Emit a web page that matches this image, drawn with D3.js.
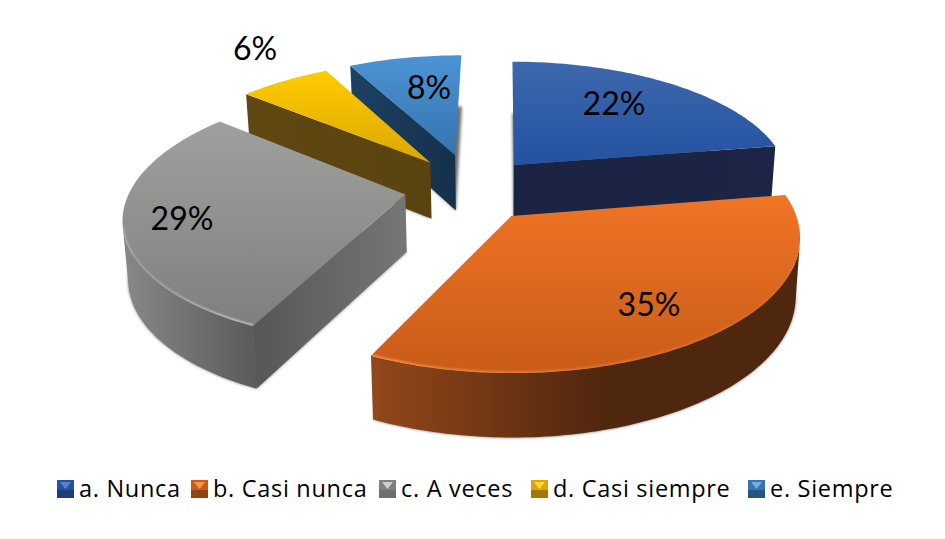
<!DOCTYPE html>
<html lang="es">
<head>
<meta charset="UTF-8">
<title>Grafico circular</title>
<script src="https://d3js.org/d3.v7.min.js"></script>
<style>
  html, body { margin: 0; background: #fff; }
  svg { display: block; }
  text { font-family: Lato, "Open Sans", sans-serif; fill: #000; }
  .leg text { font-family: "Open Sans", sans-serif; letter-spacing: 0.7px; }
</style>
</head>
<body>
<div id="grafico"></div>
<script>
// data
const categorias = ['a. Nunca', 'b. Casi nunca', 'c. A veces', 'd. Casi siempre', 'e. Siempre']
const valores = [22.4, 34.6, 29, 6.2, 7.8]

// colours per slice: top from/to, rim left/right, straight face left/right
const topoA = ['#3d68ad', '#f07425', '#a0a09e', '#ffcc00', '#4d93d3']
const topoB = ['#2452a0', '#c85c18', '#7f7f7f', '#dca700', '#3474b0']
const ladoA = ['#1b2444', '#94471a', '#888888', '#5f4812', '#1c4263']
const ladoB = ['#1b2444', '#4f260e', '#5a5a5a', '#59430f', '#15304a']
const ladoFim = [1, 0.55, 1, 1, 1]
const faceA = ['#1a2341', '#94471a', '#565656', '#5f4812', '#1c4263']
const faceB = ['#1c2546', '#4f260e', '#767676', '#59430f', '#15304a']
const bisel = ['#5a84c8', '#f7964c', '#cfcfcf', '#ffd83a', '#74aee0']
const biselA = [0, 1, 0.35, 0, 0]
const biselB = [0, 0.1, 1, 0, 0]

// layout
const largura = 945, altura = 539
const raios = [280, 276, 275, 280, 276]
const fundo = 57
const xv = 504, y0 = 189, k = 0.45, p = 0.00055
const explodeX = [10, 7, -98, -76, -51]
const explodeY = [-55, 58, 12, -60, -79]
const labelX = [614, 649, 182, 255, 429]
const labelY = [102, 303, 217, 47, 86]
const legendaX = [57, 191, 379, 531, 748]
const ordem = [0, 4, 3, 2, 1] // back to front

const svg = d3.select('#grafico').append('svg')
  .attr('width', largura)
  .attr('height', altura)

const defs = svg.append('defs')
defs.append('filter').attr('id', 'sombra')
  .attr('x', '-10%').attr('y', '-10%').attr('width', '120%').attr('height', '120%')
  .append('feGaussianBlur').attr('stdDeviation', 1.6)
defs.append('filter').attr('id', 'blur1')
  .attr('x', '-10%').attr('y', '-10%').attr('width', '120%').attr('height', '120%')
  .append('feGaussianBlur').attr('stdDeviation', 0.8)

function gradiente(id, a, b, x2, y2, opA, opB) {
  const g = defs.append('linearGradient').attr('id', id)
    .attr('x1', 0).attr('y1', 0).attr('x2', x2).attr('y2', y2)
  g.append('stop').attr('offset', 0).attr('stop-color', a).attr('stop-opacity', opA)
  g.append('stop').attr('offset', 1).attr('stop-color', b).attr('stop-opacity', opB)
}

valores.forEach((v, i) => {
  gradiente('topo' + i, topoA[i], topoB[i], 0, 1, 1, 1)
  gradiente('lado' + i, ladoA[i], ladoB[i], ladoFim[i], 0, 1, 1)
  gradiente('face' + i, faceA[i], faceB[i], 1, 0, 1, 1)
  gradiente('bisel' + i, bisel[i], bisel[i], 1, 0, biselA[i], biselB[i])
})

// plane -> screen, with a little perspective
function projeta(X, Y) {
  const s = 1 / (1 - p * Y)
  return [xv + X * s, y0 + k * Y * s, s]
}
// same point on the lower face of the slab
function abaixo(q) {
  return [xv + (q[0] - xv) * 0.985, q[1] + fundo * Math.pow(q[2], 0.6)]
}

const pie = d3.pie().sort(null).startAngle(0).endAngle(2 * Math.PI)
const fatias = pie(valores)
const linha = d3.line()

function borda(i, a0, a1) {
  const n = Math.max(2, Math.ceil((a1 - a0) / 0.02))
  return d3.range(n + 1).map(j => {
    const a = a0 + (a1 - a0) * j / n
    return projeta(explodeX[i] + raios[i] * Math.sin(a), explodeY[i] - raios[i] * Math.cos(a))
  })
}

ordem.forEach(i => {
  const f = fatias[i]
  const g = svg.append('g')
  const apice = projeta(explodeX[i], explodeY[i])
  const arco = borda(i, f.startAngle, f.endAngle)
  const topo = [apice].concat(arco)
  const sinal = Math.sign(d3.polygonArea(topo))

  // soft shadow of the lower face
  g.append('path')
    .attr('d', linha(topo.map(abaixo)) + 'Z')
    .attr('fill', '#6f6f6f')
    .attr('filter', 'url(#sombra)')

  // straight faces, only those clearly turned towards us
  const faces = [[apice, arco[0]], [arco[arco.length - 1], apice]]
  faces.forEach(par => {
    const quad = [par[0], par[1], abaixo(par[1]), abaixo(par[0])]
    const area = d3.polygonArea(quad)
    if (Math.sign(area) === sinal || Math.abs(area) < 800) return
    g.append('path')
      .attr('d', linha(quad) + 'Z')
      .attr('fill', 'url(#face' + i + ')')
  })

  // curved face, keep the part turned towards us
  const visivel = arco.slice(1).map((q, j) => {
    const quad = [arco[j], q, abaixo(q), abaixo(arco[j])]
    return Math.sign(d3.polygonArea(quad)) !== sinal
  })
  const ini = visivel.indexOf(true), fim = visivel.lastIndexOf(true)
  if (ini >= 0) {
    const parte = arco.slice(ini, fim + 2)
    g.append('path')
      .attr('d', linha(parte.concat(parte.map(abaixo).reverse())) + 'Z')
      .attr('fill', 'url(#lado' + i + ')')
  }

  // top
  g.append('path')
    .attr('d', linha(topo) + 'Z')
    .attr('fill', 'url(#topo' + i + ')')

  // bevel along the rim
  defs.append('clipPath').attr('id', 'corte' + i)
    .append('path').attr('d', linha(topo) + 'Z')
  if (ini >= 0 && biselB[i] > 0) {
    g.append('g').attr('clip-path', 'url(#corte' + i + ')')
      .append('path')
      .attr('d', linha(arco.slice(ini, fim + 2)))
      .attr('fill', 'none')
      .attr('stroke', 'url(#bisel' + i + ')')
      .attr('stroke-width', 3)
      .attr('filter', 'url(#blur1)')
  }
})

// percent labels
svg.selectAll('text.rotulo')
  .data(valores)
  .enter()
  .append('text')
  .attr('class', 'rotulo')
  .attr('x', (d, i) => labelX[i])
  .attr('y', (d, i) => labelY[i])
  .attr('text-anchor', 'middle')
  .attr('dominant-baseline', 'central')
  .attr('font-size', 32)
  .text(d => Math.round(d) + '%')

// legend
const leg = svg.selectAll('g.leg')
  .data(categorias)
  .enter()
  .append('g')
  .attr('class', 'leg')
  .attr('transform', (d, i) => 'translate(' + legendaX[i] + ',480)')

leg.append('rect')
  .attr('width', 17).attr('height', 18)
  .attr('fill', (d, i) => topoB[i])
leg.append('rect')
  .attr('y', 10).attr('width', 17).attr('height', 8)
  .attr('fill', (d, i) => ladoB[i])
  .attr('opacity', 0.45)
leg.append('path')
  .attr('d', 'M3,2H14L8.5,9Z')
  .attr('fill', (d, i) => bisel[i])
leg.append('text')
  .attr('x', 22)
  .attr('y', 17)
  .attr('font-size', 23.5)
  .text(d => d)
</script>
</body>
</html>
